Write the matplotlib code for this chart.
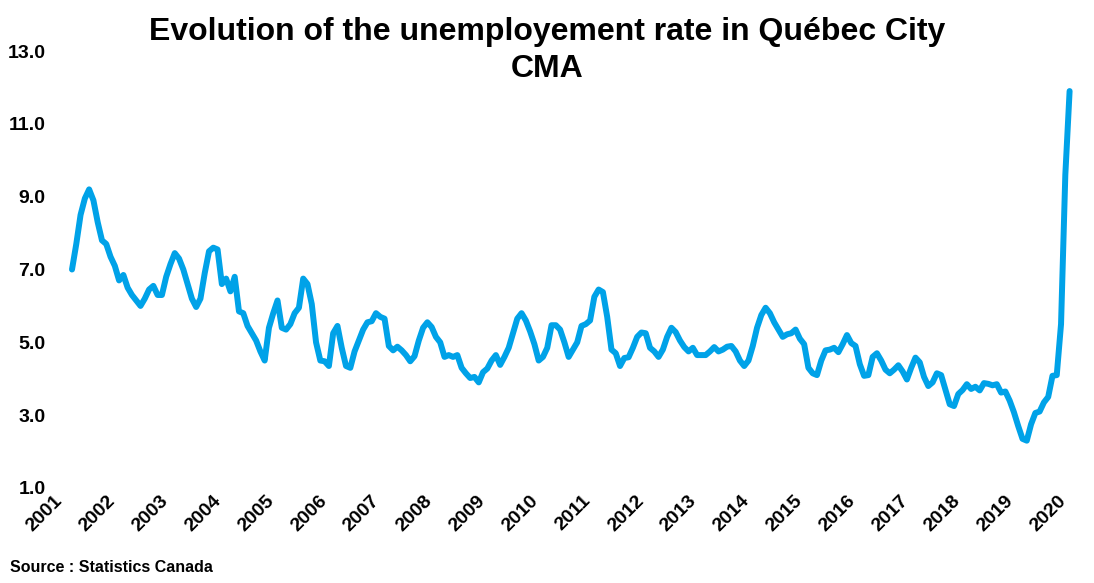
import matplotlib
matplotlib.use('Agg')
import matplotlib.pyplot as plt

plt.rcParams['font.family'] = ['Liberation Sans', 'DejaVu Sans']
plt.rcParams['font.weight'] = 'bold'

# monthly unemployment rate, Jan 2001 - May 2020
rate_2001 = [7.0, 7.7, 8.5, 8.95, 9.2, 8.9, 8.3, 7.8, 7.7, 7.35, 7.1, 6.7]
rate_2002 = [6.85, 6.5, 6.3, 6.15, 6.0, 6.2, 6.45, 6.55, 6.3, 6.3, 6.8, 7.15]
rate_2003 = [7.45, 7.3, 7.0, 6.6, 6.2, 5.97, 6.2, 6.9, 7.5, 7.6, 7.55, 6.6]
rate_2004 = [6.75, 6.4, 6.8, 5.85, 5.8, 5.45, 5.25, 5.05, 4.75, 4.5, 5.4, 5.8]
rate_2005 = [6.15, 5.4, 5.35, 5.5, 5.8, 5.95, 6.75, 6.6, 6.05, 5.0, 4.5, 4.48]
rate_2006 = [4.35, 5.25, 5.45, 4.85, 4.35, 4.3, 4.75, 5.05, 5.35, 5.55, 5.58, 5.8]
rate_2007 = [5.7, 5.65, 4.9, 4.78, 4.88, 4.78, 4.65, 4.48, 4.62, 5.05, 5.4, 5.55]
rate_2008 = [5.42, 5.15, 5.0, 4.6, 4.65, 4.6, 4.65, 4.3, 4.15, 4.02, 4.05, 3.9]
rate_2009 = [4.18, 4.28, 4.5, 4.65, 4.38, 4.6, 4.85, 5.25, 5.65, 5.8, 5.6, 5.3]
rate_2010 = [4.95, 4.5, 4.6, 4.85, 5.47, 5.47, 5.35, 5.0, 4.6, 4.8, 5.0, 5.45]
rate_2011 = [5.5, 5.6, 6.25, 6.45, 6.38, 5.7, 4.8, 4.7, 4.35, 4.57, 4.59, 4.85]
rate_2012 = [5.15, 5.27, 5.25, 4.85, 4.75, 4.6, 4.8, 5.15, 5.4, 5.28, 5.05, 4.87]
rate_2013 = [4.75, 4.85, 4.65, 4.65, 4.65, 4.75, 4.87, 4.75, 4.8, 4.88, 4.9, 4.75]
rate_2014 = [4.5, 4.35, 4.5, 4.9, 5.4, 5.75, 5.95, 5.8, 5.55, 5.35, 5.15, 5.22]
rate_2015 = [5.25, 5.35, 5.1, 4.95, 4.3, 4.15, 4.1, 4.5, 4.78, 4.8, 4.85, 4.73]
rate_2016 = [4.95, 5.2, 4.98, 4.9, 4.4, 4.08, 4.1, 4.6, 4.7, 4.5, 4.25, 4.15]
rate_2017 = [4.25, 4.37, 4.2, 3.98, 4.3, 4.58, 4.45, 4.05, 3.8, 3.9, 4.15, 4.1]
rate_2018 = [3.7, 3.3, 3.25, 3.58, 3.69, 3.85, 3.72, 3.78, 3.68, 3.88, 3.86, 3.82]
rate_2019 = [3.85, 3.62, 3.65, 3.4, 3.08, 2.7, 2.35, 2.3, 2.75, 3.06, 3.1, 3.35]
rate_2020 = [3.5, 4.08, 4.1, 5.5, 9.6, 11.9]

rates = (rate_2001 + rate_2002 + rate_2003 + rate_2004 + rate_2005 + rate_2006
         + rate_2007 + rate_2008 + rate_2009 + rate_2010 + rate_2011 + rate_2012
         + rate_2013 + rate_2014 + rate_2015 + rate_2016 + rate_2017 + rate_2018
         + rate_2019 + rate_2020)
years = [str(y) for y in range(2001, 2021)]
yticks = [1.0, 3.0, 5.0, 7.0, 9.0, 11.0, 13.0]

x0 = -4.2  # first year label sits a bit left of the first point
px = 997.6 / (len(rates) - 1)

fig = plt.figure(figsize=(10.94, 5.83), dpi=100)
ax = fig.add_axes([(72 + x0*px)/1094, 95/583,
                   (len(rates) - 1 - x0)*px/1094, 437/583])

ax.plot(range(len(rates)), rates, color='#00A2E8', lw=4.3, clip_on=False,
        solid_joinstyle='round', solid_capstyle='round')

ax.set_yticks(yticks)
ax.set_yticklabels(['%.1f' % v for v in yticks], fontsize=14, fontweight='bold')
ax.set_xticks([x0 + 12.34*i for i in range(len(years))])
ax.set_xticklabels(years, rotation=45, ha='right', rotation_mode='anchor',
                   fontsize=14, fontweight='bold')
ax.set_xlim(x0, len(rates) - 1)
ax.set_ylim(1, 13)
ax.tick_params(axis='y', length=0, pad=19 + x0*px*0.72)
ax.tick_params(axis='x', length=0, pad=3)
for s in ax.spines.values():
    s.set_visible(False)

fig.text(0.5, 1 - 17/583, "Evolution of the unemployement rate in Québec City\nCMA",
         ha='center', va='top', fontsize=23, fontweight='bold',
         linespacing=1.3)
fig.text(10/1094, 1 - 567/583, "Source : Statistics Canada", ha='left',
         va='center', fontsize=11.5, fontweight='bold')

fig.savefig('out.png', dpi=100)
